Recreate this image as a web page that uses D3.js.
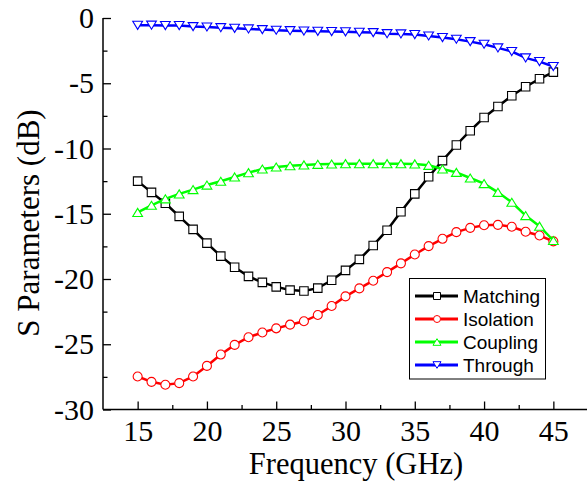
<!DOCTYPE html>
<html>
<head>
<meta charset="utf-8">
<script src="https://cdn.jsdelivr.net/npm/d3@7"></script>
<style>
  html, body { margin: 0; padding: 0; background: #fff; }
  svg { display: block; }
</style>
</head>
<body>
<svg id="chart" width="587" height="483"></svg>
<script>
const freq = [15,16,17,18,19,20,21,22,23,24,25,26,27,28,29,30,31,32,33,34,35,36,37,38,39,40,41,42,43,44,45];
const matching = [-12.5,-13.36,-14.2,-15.2,-16.2,-17.25,-18.25,-19.1,-19.8,-20.26,-20.6,-20.85,-20.92,-20.7,-20.1,-19.34,-18.5,-17.43,-16.26,-14.85,-13.48,-12.16,-10.93,-9.73,-8.64,-7.62,-6.78,-5.96,-5.27,-4.66,-4.15];
const isolation = [-27.47,-27.88,-28.1,-27.98,-27.47,-26.66,-25.79,-25.05,-24.46,-24.1,-23.78,-23.5,-23.24,-22.76,-22.07,-21.33,-20.72,-20.13,-19.47,-18.8,-18.12,-17.48,-16.92,-16.41,-16.08,-15.88,-15.85,-16.0,-16.38,-16.67,-17.12];
const coupling = [-14.9,-14.35,-13.86,-13.48,-13.15,-12.8,-12.51,-12.18,-11.85,-11.57,-11.42,-11.32,-11.26,-11.21,-11.19,-11.16,-11.16,-11.16,-11.16,-11.16,-11.18,-11.29,-11.57,-11.83,-12.26,-12.69,-13.36,-14.12,-15.14,-15.95,-17.05];
const through = [-0.56,-0.55,-0.58,-0.58,-0.66,-0.69,-0.74,-0.79,-0.84,-0.89,-0.94,-0.97,-1.0,-1.02,-1.04,-1.06,-1.1,-1.12,-1.2,-1.22,-1.27,-1.38,-1.5,-1.63,-1.81,-2.01,-2.29,-2.57,-3.06,-3.34,-3.72];

const seriesNames = ["Matching","Isolation","Coupling","Through"];
const seriesColors = ["#000000","#ff0000","#00ff00","#0000ff"];
const seriesMarkers = ["square","circle","up","down"];
const seriesValues = [matching, isolation, coupling, through];

const xTicks = [15,20,25,30,35,40,45];
const xMinor = [17.5,22.5,27.5,32.5,37.5,42.5,47.5];
const yTicks = [0,-5,-10,-15,-20,-25,-30];
const yMinor = [-2.5,-7.5,-12.5,-17.5,-22.5,-27.5];

const svg = d3.select("#chart");
const x = d3.scaleLinear().domain([12.5, 47.5]).range([103, 588]);
const y = d3.scaleLinear().domain([-30, 0]).range([409.5, 18]);

const serif = "'Liberation Serif','Times New Roman',serif";
const fmt = d => String(d);

// Axes
const gx = svg.append("g").attr("transform", "translate(0,409.5)")
  .call(d3.axisBottom(x).tickValues(xTicks).tickSize(-8).tickPadding(10.2).tickFormat(fmt));
const gxm = svg.append("g").attr("transform", "translate(0,409.5)")
  .call(d3.axisBottom(x).tickValues(xMinor).tickSize(-4.5).tickFormat(""));
const gy = svg.append("g").attr("transform", "translate(103,0)")
  .call(d3.axisLeft(y).tickValues(yTicks).tickSize(-8).tickPadding(9).tickFormat(fmt));
const gym = svg.append("g").attr("transform", "translate(103,0)")
  .call(d3.axisLeft(y).tickValues(yMinor).tickSize(-4.5).tickFormat(""));

[gx, gxm, gy, gym].forEach(g => {
  g.select(".domain").attr("stroke", "#000").attr("stroke-width", 1.5);
  g.selectAll(".tick line").attr("stroke", "#000").attr("stroke-width", 1.3);
  g.selectAll("text").attr("font-family", serif).attr("font-size", 30).attr("fill", "#000");
});
gx.select(".domain").attr("d", "M103,0H588");
gy.select(".domain").attr("d", "M0,409.5V18");
gxm.select(".domain").remove();
gym.select(".domain").remove();

// Axis titles
svg.append("text").attr("x", 356).attr("y", 474).attr("text-anchor", "middle")
  .attr("font-family", serif).attr("font-size", 30.5).attr("fill", "#000")
  .text("Frequency (GHz)");
svg.append("text").attr("transform", "translate(39,223) rotate(-90)").attr("text-anchor", "middle")
  .attr("font-family", serif).attr("font-size", 31).attr("fill", "#000")
  .text("S Parameters (dB)");

function markerPath(type, s) {
  if (type === "square") return `M${-s/2},${-s/2}h${s}v${s}h${-s}Z`;
  if (type === "circle") { const r = s/2; return `M${r},0A${r},${r} 0 1,1 ${-r},0A${r},${r} 0 1,1 ${r},0Z`; }
  const w = s * 1.15, h = s * 0.95;
  if (type === "up") return `M0,${-h/2}L${w/2},${h/2}L${-w/2},${h/2}Z`;
  return `M0,${h/2}L${w/2},${-h/2}L${-w/2},${-h/2}Z`;
}

const line = d3.line().x(d => x(d[0])).y(d => y(d[1]));

seriesValues.forEach((vals, i) => {
  const pts = freq.map((f, j) => [f, vals[j]]);
  const g = svg.append("g");
  g.append("path").datum(pts).attr("d", line).attr("fill", "none")
    .attr("stroke", seriesColors[i]).attr("stroke-width", 2.5);
  const size = seriesMarkers[i] === "circle" ? 9 : 8.5;
  g.selectAll("path.m").data(pts).join("path").attr("class", "m")
    .attr("transform", d => `translate(${x(d[0])},${y(d[1])})`)
    .attr("d", markerPath(seriesMarkers[i], size))
    .attr("fill", "#fff").attr("stroke", seriesColors[i]).attr("stroke-width", 1.1);
});

// Legend
const leg = svg.append("g");
leg.append("rect").attr("x", 409.5).attr("y", 278.5).attr("width", 136).attr("height", 100.5)
  .attr("fill", "#fff").attr("stroke", "#000").attr("stroke-width", 1);
seriesNames.forEach((name, i) => {
  const cy = 296 + i * 23;
  leg.append("line").attr("x1", 415).attr("x2", 458).attr("y1", cy).attr("y2", cy)
    .attr("stroke", seriesColors[i]).attr("stroke-width", 3);
  leg.append("path").attr("transform", `translate(437,${cy})`)
    .attr("d", markerPath(seriesMarkers[i], 7))
    .attr("fill", "#fff").attr("stroke", seriesColors[i]).attr("stroke-width", 1);
  leg.append("text").attr("x", 463).attr("y", cy + 6.5)
    .attr("font-family", "'Liberation Sans',Arial,sans-serif").attr("font-size", 19).attr("fill", "#000")
    .text(name);
});
</script>
</body>
</html>
